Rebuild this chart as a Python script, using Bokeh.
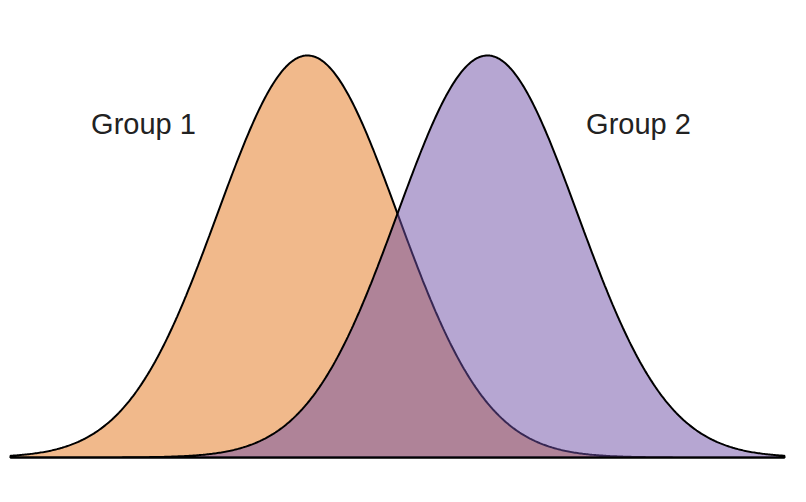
import numpy as np
from bokeh.plotting import figure
from bokeh.models import Range1d
from bokeh.core.properties import value
from bokeh.embed import file_html
from bokeh.resources import INLINE

# Data: two normal density curves
groups = ["Group 1", "Group 2"]
group_means = [0.0, 2.0]
group_sds = [1.0, 1.0]
x_start, x_end = -3.3, 5.3
fill_colors = ["#E37317", "#6D4DA5"]
label_x = [-1.822, 3.678]
label_y = [0.3305, 0.3305]

p = figure(width=790, height=486, output_backend="svg", toolbar_location=None,
           x_range=Range1d(-3.411, 5.367), y_range=Range1d(-0.0288, 0.4535),
           min_border=0, min_border_left=0, min_border_right=0,
           min_border_top=0, min_border_bottom=0)
p.axis.visible = False
p.xaxis.visible = False
p.yaxis.visible = False
p.grid.visible = False
p.outline_line_color = None
p.background_fill_color = "white"
p.border_fill_color = "white"

xs = np.linspace(x_start, x_end, 600)
for m, s, c in zip(group_means, group_sds, fill_colors):
    ys = np.exp(-0.5 * ((xs - m) / s) ** 2) / (s * np.sqrt(2 * np.pi))
    px = np.concatenate([xs, [x_end, x_start]])
    py = np.concatenate([ys, [0.0, 0.0]])
    p.patch(px, py, fill_color=c, fill_alpha=0.5, line_color="black",
            line_width=2)

p.text(x=label_x, y=label_y, text=groups, text_font=value("Liberation Sans"),
       text_font_size="29px", text_color="#222222", text_align="center",
       text_baseline="alphabetic")

open("out.html", "w").write(file_html(p, INLINE))
